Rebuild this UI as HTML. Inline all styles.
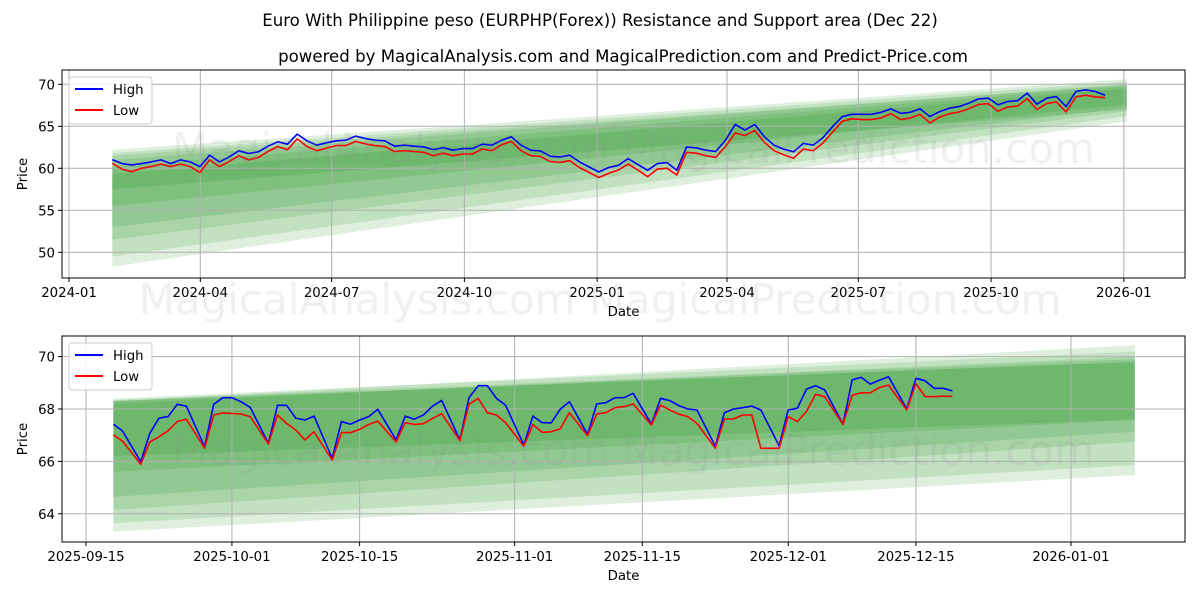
<!DOCTYPE html>
<html><head><meta charset="utf-8"><style>
html,body{margin:0;padding:0;background:#fff;}
svg text{font-family:"DejaVu Sans","Liberation Sans",sans-serif;}
</style></head><body>
<svg id="chart" width="1200" height="600" viewBox="0 0 1200 600" xmlns="http://www.w3.org/2000/svg">
<rect x="0" y="0" width="1200" height="600" fill="#fff"/>
<text x="600" y="26" text-anchor="middle" font-size="16.6" fill="#000">Euro With Philippine peso (EURPHP(Forex)) Resistance and Support area (Dec 22)</text>
<text x="623" y="62" text-anchor="middle" font-size="16.6" fill="#000">powered by MagicalAnalysis.com and MagicalPrediction.com and Predict-Price.com</text>
<g id="top"></g>
<g id="bot"></g>
</svg>
<script>
// ---------- TOP CHART DATA (days since 2024-01-01) ----------
const topStartDay = 30;
const topEndDay = 718;
const topHigh = [61.04,60.56,60.4,60.56,60.76,61.0,60.56,61.0,60.76,60.2,61.56,60.76,61.36,62.08,61.76,61.96,62.63,63.15,62.87,64.07,63.27,62.75,63.03,63.27,63.35,63.83,63.55,63.35,63.27,62.63,62.75,62.63,62.55,62.23,62.47,62.15,62.35,62.35,62.87,62.75,63.35,63.75,62.75,62.15,62.07,61.43,61.36,61.56,60.76,60.16,59.56,60.1,60.36,61.16,60.44,59.76,60.56,60.68,59.76,62.55,62.43,62.16,62.0,63.35,65.23,64.55,65.23,63.75,62.75,62.27,61.96,62.96,62.75,63.63,64.95,66.15,66.43,66.43,66.43,66.67,67.07,66.55,66.67,67.07,66.15,66.75,67.15,67.35,67.75,68.26,68.35,67.55,67.95,68.03,68.95,67.63,68.35,68.55,67.35,69.14,69.34,69.14,68.7];
const topLow = [60.6,59.9,59.6,60.0,60.2,60.5,60.2,60.5,60.2,59.5,61.0,60.2,60.8,61.5,61.0,61.3,62.0,62.6,62.2,63.5,62.6,62.1,62.4,62.7,62.7,63.2,62.9,62.7,62.6,62.0,62.1,62.0,61.9,61.5,61.8,61.5,61.7,61.7,62.3,62.1,62.8,63.2,62.1,61.5,61.4,60.8,60.7,60.9,60.1,59.5,58.9,59.4,59.8,60.5,59.8,59.0,59.9,60.0,59.2,61.9,61.8,61.5,61.3,62.6,64.2,63.9,64.5,63.1,62.1,61.6,61.2,62.3,62.1,63.0,64.3,65.6,65.9,65.8,65.8,66.0,66.5,65.8,66.0,66.4,65.4,66.1,66.5,66.7,67.1,67.6,67.7,66.8,67.3,67.4,68.3,67.0,67.7,67.9,66.7,68.5,68.7,68.5,68.4];
const topBands = [[48.3,62.2,65.6,70.6],[49.5,61.8,66.2,70.3],[51.5,61.0,66.8,70.0],[53.0,60.2,67.2,69.8],[55.5,59.3,67.6,69.5],[57.5,61.5,67.0,69.9]];
const topBandEndDay = 733;
const topYTicks = [50,55,60,65,70];
const topXTickDays = [0,91,182,274,366,456,547,639,731];
const topXTickLabels = ["2024-01","2024-04","2024-07","2024-10","2025-01","2025-04","2025-07","2025-10","2026-01"];

// ---------- BOTTOM CHART DATA (days since 2025-09-15) ----------
const botDays = [3,4,6,7,8,9,10,11,13,14,15,16,17,18,20,21,22,23,24,25,27,28,29,30,31,32,34,35,36,37,38,39,41,42,43,44,45,46,48,49,50,51,52,53,55,56,57,58,59,60,62,63,64,65,66,67,69,70,71,72,73,74,76,77,78,79,80,81,83,84,85,86,87,88,90,91,92,93,94,95];
const botHigh = [67.42,67.16,65.99,67.07,67.65,67.71,68.18,68.11,66.56,68.18,68.43,68.43,68.28,68.06,66.69,68.14,68.14,67.65,67.58,67.73,66.12,67.52,67.42,67.58,67.71,67.99,66.82,67.73,67.61,67.77,68.11,68.33,66.82,68.43,68.89,68.89,68.41,68.15,66.63,67.73,67.48,67.47,67.99,68.28,67.03,68.19,68.24,68.43,68.43,68.6,67.42,68.41,68.32,68.13,68.0,67.96,66.58,67.86,68.0,68.05,68.11,67.96,66.6,67.96,68.03,68.76,68.89,68.73,67.42,69.11,69.21,68.95,69.1,69.23,68.0,69.17,69.08,68.79,68.79,68.69];
const botLow = [67.01,66.78,65.89,66.74,66.94,67.17,67.52,67.61,66.5,67.77,67.85,67.83,67.81,67.71,66.66,67.77,67.45,67.2,66.82,67.13,66.05,67.1,67.1,67.22,67.41,67.54,66.74,67.48,67.41,67.44,67.64,67.82,66.79,68.18,68.41,67.86,67.77,67.48,66.58,67.41,67.11,67.13,67.24,67.86,66.98,67.81,67.86,68.05,68.09,68.19,67.39,68.15,67.96,67.8,67.71,67.45,66.5,67.62,67.62,67.77,67.77,66.5,66.5,67.71,67.52,67.91,68.56,68.47,67.41,68.53,68.62,68.62,68.82,68.91,67.96,68.97,68.48,68.47,68.49,68.48];
const botBands = [[65.6,68.3,67.58,69.8],[66.2,68.3,67.6,69.8],[64.65,68.35,67.13,69.9],[64.15,68.4,66.75,70.19],[63.64,68.3,65.86,70.44],[63.32,68.2,65.48,70.0]];
const botBandStartDay = 3;
const botBandEndDay = 115;
const botYTicks = [64,66,68,70];
const botXTickDays = [0,16,30,47,61,77,91,108];
const botXTickLabels = ["2025-09-15","2025-10-01","2025-10-15","2025-11-01","2025-11-15","2025-12-01","2025-12-15","2026-01-01"];

const NS = "http://www.w3.org/2000/svg";
function mk(parent, tag, attrs, text){
  const e = document.createElementNS(NS, tag);
  for (const k in attrs) e.setAttribute(k, attrs[k]);
  if (text !== undefined) e.textContent = text;
  parent.appendChild(e);
  return e;
}

function drawPanel(g, cfg){
  const {L,R,T,B,xs,ys} = cfg;
  const bg = mk(g,'g',{});
  
  
  cfg.bands.forEach((b,i)=>{
    const x0 = xs(cfg.bandStart), x1 = xs(cfg.bandEnd);
    const p = mk(bg,'polygon',{points:`${x0},${ys(b[0])} ${x1},${ys(b[2])} ${x1},${ys(b[3])} ${x0},${ys(b[1])}`, fill:'#008000', 'fill-opacity':'0.13'});
    
    
  });
  cfg.yTicks.forEach(v=>{
    const gl = mk(g,'line',{x1:L,x2:R,y1:ys(v),y2:ys(v),stroke:'#b0b0b0','stroke-width':1});
    
    
    mk(g,'line',{x1:L-4,x2:L,y1:ys(v),y2:ys(v),stroke:'#000','stroke-width':1});
    const t = mk(g,'text',{x:L-7,y:ys(v)+5,'text-anchor':'end','font-size':13.3,fill:'#000'}, String(v));
    
    
  });
  cfg.xTickDays.forEach((d,i)=>{
    const x = xs(d);
    const gl = mk(g,'line',{x1:x,x2:x,y1:T,y2:B,stroke:'#b0b0b0','stroke-width':1});
    
    
    mk(g,'line',{x1:x,x2:x,y1:B,y2:B+4,stroke:'#000','stroke-width':1});
    const t = mk(g,'text',{x:x,y:B+19,'text-anchor':'middle','font-size':13.3,fill:'#000'}, cfg.xTickLabels[i]);
    
    
  });
  const mkLine = (vals, color, name)=>{
    const pts = vals.map((v,i)=>`${xs(cfg.days[i]).toFixed(1)},${ys(v).toFixed(1)}`).join(' ');
    const pl = mk(g,'polyline',{points:pts,fill:'none',stroke:color,'stroke-width':1.6,'stroke-linejoin':'round'});
    
    
  };
  mkLine(cfg.high,'#0000ff','high-line');
  mkLine(cfg.low,'#ff0000','low-line');
  const wm = mk(g,'text',{x:(L+R)/2+10,y:cfg.wmY,'text-anchor':'middle','font-size':42,fill:'#888','fill-opacity':'0.13'}, 'MagicalAnalysis.com    MagicalPrediction.com');
  
  
  mk(g,'rect',{x:L,y:T,width:R-L,height:B-T,fill:'none',stroke:'#000','stroke-width':1});
  const yl = mk(g,'text',{x:0,y:0,transform:`translate(${cfg.yLabelX},${(T+B)/2}) rotate(-90)`,'text-anchor':'middle','font-size':13.3,fill:'#000'},'Price');
  
  
  const xl = mk(g,'text',{x:(L+R)/2,y:B+38,'text-anchor':'middle','font-size':13.3,fill:'#000'},'Date');
  
  
  const lg = mk(g,'g',{});
  
  
  mk(lg,'rect',{x:L+7,y:T+7,width:83,height:47,rx:3,fill:'#fff','fill-opacity':'0.85',stroke:'#ccc'});
  const e1 = mk(lg,'g',{});
  
  
  mk(e1,'line',{x1:L+13,x2:L+41,y1:T+19,y2:T+19,stroke:'#0000ff','stroke-width':2});
  mk(e1,'text',{x:L+51,y:T+24,'font-size':13.3,fill:'#000'},'High');
  const e2 = mk(lg,'g',{});
  
  
  mk(e2,'line',{x1:L+13,x2:L+41,y1:T+40,y2:T+40,stroke:'#ff0000','stroke-width':2});
  mk(e2,'text',{x:L+51,y:T+45,'font-size':13.3,fill:'#000'},'Low');
}

const topDays = topHigh.map((_,i)=> topStartDay + i*(topEndDay-topStartDay)/(topHigh.length-1));
drawPanel(document.getElementById('top'),{
  prefix:'top-', L:62, R:1185, T:70, B:278,
  xs: d => 69 + d*1.443,
  ys: v => 168.3 - (v-60)*8.4,
  bands: topBands, bandStart: topStartDay, bandEnd: topBandEndDay,
  yTicks: topYTicks, xTickDays: topXTickDays, xTickLabels: topXTickLabels,
  days: topDays, high: topHigh, low: topLow, yLabelX: 27, wmY: 163
});
drawPanel(document.getElementById('bot'),{
  prefix:'bottom-', L:62, R:1185, T:336, B:542,
  xs: d => 86 + d*9.12,
  ys: v => 409 - (v-68)*26.2,
  bands: botBands, bandStart: botBandStartDay, bandEnd: botBandEndDay,
  yTicks: botYTicks, xTickDays: botXTickDays, xTickLabels: botXTickLabels,
  days: botDays, high: botHigh, low: botLow, yLabelX: 27, wmY: 465
});
const mw = mk(document.getElementById('chart'),'text',{x:600,y:314,'text-anchor':'middle','font-size':42,fill:'#888','fill-opacity':'0.13'},'MagicalAnalysis.com    MagicalPrediction.com');


</script>
</body></html>
